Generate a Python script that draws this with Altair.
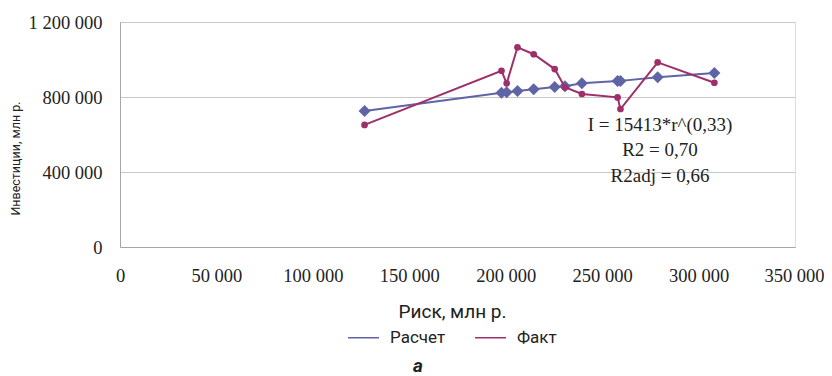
import altair as alt
import pandas as pd

# Data
risk = [126800, 197800, 200500, 206100, 214500, 225400, 230700, 239500, 258000, 259500, 278800, 308200]
calc = [725000, 823000, 825000, 832000, 841000, 853000, 857000, 873000, 885000, 886000, 905000, 928000]
fact = [651000, 940000, 873000, 1065000, 1028000, 949000, 852000, 816000, 798000, 736000, 985000, 876000]
series_names = ["Расчет", "Факт"]
x_ticks = [0, 50000, 100000, 150000, 200000, 250000, 300000, 350000]
y_ticks = [0, 400000, 800000, 1200000]
notes = ["I = 15413*r^(0,33)", "R2 = 0,70", "R2adj = 0,66"]

BLUE = "#5F64A6"
RED = "#9E2F6A"

rows = []
for r, c in zip(risk, calc):
    rows.append({"risk": r, "inv": c, "series": series_names[0]})
for r, f in zip(risk, fact):
    rows.append({"risk": r, "inv": f, "series": series_names[1]})
df = pd.DataFrame(rows)

note_x = 280000
note_y = [650000, 517000, 381000]
notes_df = pd.DataFrame({"text": notes, "x": [note_x] * 3, "y": note_y})

fmt = "replace(format(datum.value, ','), /,/g, ' ')"
last_test = "datum.value >= 350000"

x_enc = alt.X(
    "risk:Q",
    scale=alt.Scale(domain=[0, 350000], nice=False, zero=True),
    axis=alt.Axis(
        values=x_ticks, labelExpr=fmt, grid=False, ticks=False,
        labelPadding=19, labelFlush=False,
        labelAlign={"condition": {"test": last_test, "value": "right"}, "value": "center"},
        labelOffset={"condition": {"test": last_test, "value": 29}, "value": 0},
        title="Риск, млн р.", titleFont="Roboto", titleFontSize=19,
        titleFontWeight="normal", titleColor="#222222", titleY=64, titleX=332,
        titleAlign="center", titleBaseline="middle",
    ),
)
y_enc = alt.Y(
    "inv:Q",
    scale=alt.Scale(domain=[0, 1200000], nice=False),
    axis=alt.Axis(
        values=y_ticks, labelExpr=fmt, grid=True, gridColor="#C8C8C8",
        ticks=False, labelPadding=18,
        title="Инвестиции, млн р.", titleFont="Roboto", titleFontSize=12.5,
        titleFontWeight="normal", titleColor="#222222", titleX=-105, titleY=136,
        titleAngle=-90, titleAlign="center", titleBaseline="middle",
    ),
)
color = alt.Color(
    "series:N",
    scale=alt.Scale(domain=series_names, range=[BLUE, RED]),
    legend=alt.Legend(
        title=None, orient="none", legendX=227, legendY=299, direction="horizontal",
        symbolType="stroke", symbolSize=961, symbolStrokeWidth=1.5,
        labelFont="Roboto", labelFontSize=17, labelColor="#222222",
        labelOffset=10, columnPadding=26,
    ),
)

base = alt.Chart(df)
layers = []
for name, shape, size in [(series_names[0], "diamond", 144), (series_names[1], "circle", 45)]:
    sub = base.transform_filter(alt.datum.series == name)
    layers.append(sub.mark_line(strokeWidth=2).encode(x=x_enc, y=y_enc, color=color))
    layers.append(
        sub.mark_point(shape=shape, filled=True, size=size, opacity=1).encode(
            x="risk:Q", y="inv:Q",
            color=alt.Color("series:N", scale=alt.Scale(domain=series_names, range=[BLUE, RED]), legend=None),
        )
    )

text_layer = alt.Chart(notes_df).mark_text(
    font="Liberation Serif", fontSize=19, color="#222222", align="center", baseline="middle"
).encode(x="x:Q", y="y:Q", text="text:N")

caption = alt.Chart(pd.DataFrame({"t": ["а"]})).mark_text(
    font="Roboto", fontSize=19, fontStyle="italic", fontWeight="bold",
    color="#222222", align="center", baseline="middle"
).encode(x=alt.value(298), y=alt.value(344), text="t:N")

chart = alt.layer(*layers, text_layer, caption).properties(
    width=675, height=225,
    autosize=alt.AutoSizeParams(type="none"),
    padding={"left": 112, "top": 14, "right": 29, "bottom": 129},
).configure_view(stroke=None).configure(background="white").configure_axis(
    labelFont="Liberation Serif", labelFontSize=18.5, labelColor="#222222",
    domainColor="#A6A6A6",
)

chart.save("out.html", embed_options={"renderer": "svg", "actions": False})
